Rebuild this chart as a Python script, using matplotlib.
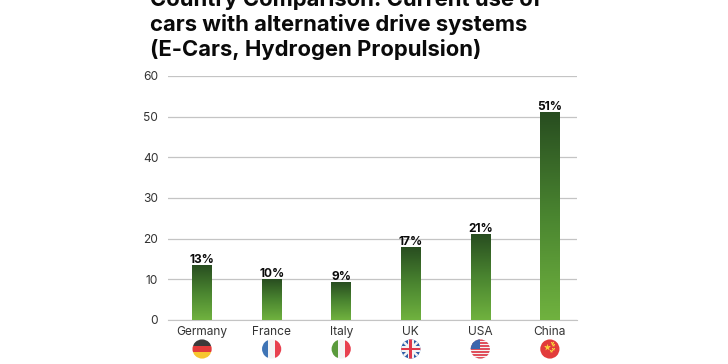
import numpy as np
import matplotlib
matplotlib.use('Agg')
import matplotlib.pyplot as plt
from matplotlib.colors import LinearSegmentedColormap
from matplotlib.patches import Circle, Rectangle, Polygon

countries = ['Germany', 'France', 'Italy', 'UK', 'USA', 'China']
values = [13.4, 10.0, 9.3, 17.8, 21.0, 51.0]
labels = ['13%', '10%', '9%', '17%', '21%', '51%']
yticks = [0, 10, 20, 30, 40, 50, 60]
title_lines = ['Country Comparison: Current use of',
               'cars with alternative drive systems',
               '(E-Cars, Hydrogen Propulsion)']

W, H = 728, 364
plt.rcParams['font.family'] = ['Inter', 'DejaVu Sans']
fig = plt.figure(figsize=(W / 100, H / 100), dpi=100)
ax = fig.add_axes([168 / W, 1 - 320 / H, 409 / W, 244 / H])

green = LinearSegmentedColormap.from_list('g', ['#284d20', '#4a8530', '#70b23f'])
grad = np.linspace(0, 1, 256).reshape(-1, 1)

x = np.arange(len(countries))
bw = 0.28
for i, v in enumerate(values):
    ax.imshow(grad, extent=(i - bw / 2, i + bw / 2, 0, v), cmap=green, aspect='auto', zorder=3)
    ax.text(i, v - 0.1, labels[i], ha='center', va='bottom', fontsize=8.6,
            fontweight='bold', color='#0a0a0a', zorder=4)

ax.set_xlim(-0.49, 5.39)
ax.set_ylim(0, 60)
ax.set_yticks(yticks)
ax.set_xticks(x)
ax.set_xticklabels(countries)
ax.grid(axis='y', color='#c4c4c4', lw=0.9, zorder=0)
ax.set_axisbelow(True)
for s in ['top', 'right', 'left']:
    ax.spines[s].set_visible(False)
ax.spines['bottom'].set_color('#c4c4c4')
ax.tick_params(axis='both', length=0, labelsize=8.6, labelcolor='#333333')
ax.tick_params(axis='y', pad=7)
ax.tick_params(axis='x', pad=4)

for n, line in enumerate(title_lines):
    fig.text(150 / W, 1 - (6 + 25 * n) / H, line, fontsize=15.85, fontweight='bold',
             color='#0a0a0a', va='baseline', ha='left')


def draw_flag(fx, name):
    size = 20
    a = fig.add_axes([(fx - size / 2) / W, 1 - (349 + size / 2) / H, size / W, size / H])
    a.set_xlim(0, 1)
    a.set_ylim(0, 1)
    a.axis('off')
    parts = []
    def rect(x0, y0, w, h, c):
        parts.append(a.add_patch(Rectangle((x0, y0), w, h, color=c, lw=0)))
    def poly(pts, c):
        parts.append(a.add_patch(Polygon(pts, color=c, lw=0)))
    if name == 'Germany':
        rect(0, 2 / 3, 1, 1 / 3, '#3a3a3a')
        rect(0, 1 / 3, 1, 1 / 3, '#e23b3b')
        rect(0, 0, 1, 1 / 3, '#f7c62f')
    elif name == 'France':
        rect(0, 0, 1 / 3, 1, '#3f74b5')
        rect(1 / 3, 0, 1 / 3, 1, '#f4f4f4')
        rect(2 / 3, 0, 1 / 3, 1, '#e8414f')
    elif name == 'Italy':
        rect(0, 0, 1 / 3, 1, '#5a9a3c')
        rect(1 / 3, 0, 1 / 3, 1, '#f4f4f4')
        rect(2 / 3, 0, 1 / 3, 1, '#e8414f')
    elif name == 'UK':
        rect(0, 0, 1, 1, '#2f5ea8')
        d = 0.09
        poly([(0, d), (d, 0), (1, 1 - d), (1 - d, 1)], '#f4f4f4')
        poly([(0, 1 - d), (d, 1), (1, d), (1 - d, 0)], '#f4f4f4')
        rect(0.36, 0, 0.28, 1, '#f4f4f4')
        rect(0, 0.36, 1, 0.28, '#f4f4f4')
        rect(0.43, 0, 0.14, 1, '#e0394a')
        rect(0, 0.43, 1, 0.14, '#e0394a')
    elif name == 'USA':
        rect(0, 0, 1, 1, '#f4f4f4')
        for k in range(0, 7, 1):
            rect(0, k * 2 / 13, 1, 1 / 13, '#e0505c')
        rect(0, 0.5, 0.5, 0.5, '#3c66ad')
    elif name == 'China':
        rect(0, 0, 1, 1, '#e23b3b')
        parts.append(a.scatter([0.36], [0.62], marker='*', s=28, color='#f9d33a', lw=0))
        parts.append(a.scatter([0.6, 0.68, 0.68, 0.58], [0.82, 0.68, 0.52, 0.4],
                               marker='*', s=6, color='#f9d33a', lw=0))
    clip = Circle((0.5, 0.5), 0.48, transform=a.transAxes, fc='none', ec='none')
    a.add_patch(clip)
    for p in parts:
        p.set_clip_path(clip)


for i, name in enumerate(countries):
    fx = ax.transData.transform((i, 0))[0]
    draw_flag(fx, name)

fig.savefig('out.png', dpi=100, facecolor='white')
